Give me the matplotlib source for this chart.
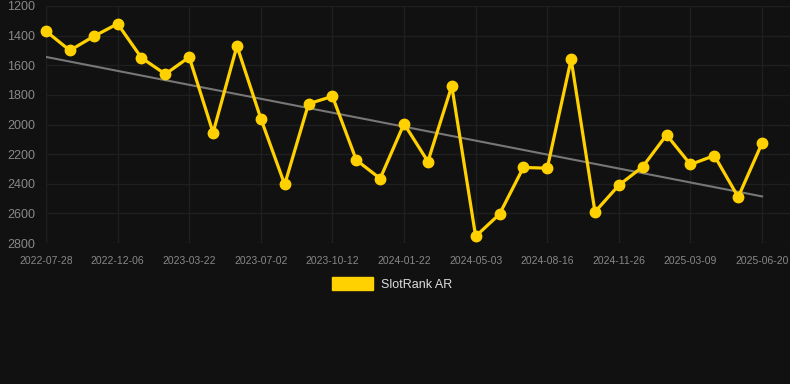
import matplotlib
matplotlib.use("Agg")
import matplotlib.pyplot as plt
from matplotlib.patches import Patch
import numpy as np

plt.rcParams['font.family'] = ['Liberation Sans', 'DejaVu Sans']

tick_labels = ["2022-07-28", "2022-12-06", "2023-03-22", "2023-07-02", "2023-10-12",
               "2024-01-22", "2024-05-03", "2024-08-16", "2024-11-26", "2025-03-09",
               "2025-06-20"]
values = [1370, 1500, 1405, 1320, 1550, 1660, 1545, 2055, 1470, 1960,
          2405, 1860, 1810, 2240, 2365, 1995, 2250, 1740, 2755, 2605,
          2290, 2295, 1560, 2590, 2410, 2285, 2070, 2270, 2210, 2490,
          2125]
series_name = "SlotRank AR"

bg = "#111111"
gold = "#FFD100"

fig = plt.figure(figsize=(7.9, 3.84), dpi=100, facecolor=bg)
ax = fig.add_axes([46/790, 1-243/384, 1-46/790, (243-6)/384], facecolor=bg)

x = np.arange(len(values))
coef = np.polyfit(x, values, 1)
trend = np.polyval(coef, x)
ax.plot(x, trend, color="#777777", lw=1.5, zorder=2)
ax.plot(x, values, color=gold, lw=2.3, marker='o', markersize=7.5, zorder=3,
        clip_on=False)

ax.set_ylim(2800, 1200)
ax.set_yticks(np.arange(1200, 2801, 200))
ax.set_xlim(0, 31.17)
ax.set_xticks(x[::3])
ax.set_xticklabels(tick_labels)

ax.grid(True, color="#1f1f1f", lw=1)
ax.set_axisbelow(True)
for s in ax.spines.values():
    s.set_visible(False)
ax.tick_params(axis='y', length=0, pad=8, labelsize=9, labelcolor="#888888")
ax.tick_params(axis='x', length=0, pad=9, labelsize=7.5, labelcolor="#888888")

leg = fig.legend(handles=[Patch(facecolor=gold, edgecolor=gold, label=series_name)],
                 loc='center', bbox_to_anchor=(392/790, 1-284/384), frameon=False,
                 handlelength=3.3, handleheight=1.2, fontsize=9, labelcolor="#dddddd",
                 handletextpad=0.6)

fig.savefig("out.png", dpi=100, facecolor=bg)
